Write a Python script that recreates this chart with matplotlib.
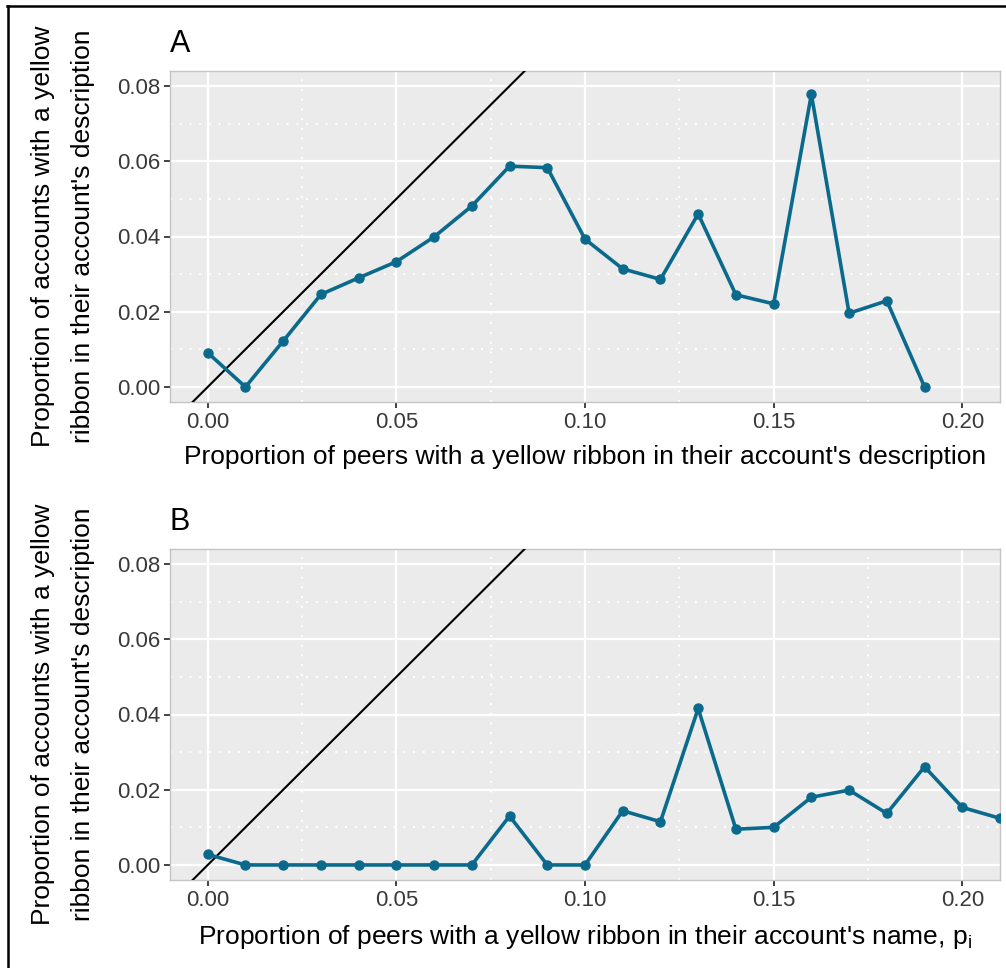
import matplotlib
matplotlib.use("Agg")
import matplotlib.pyplot as plt
from matplotlib.lines import Line2D
from matplotlib.ticker import MultipleLocator

# panel A: share of peers with ribbon in description
peer_desc = [0.00, 0.01, 0.02, 0.03, 0.04, 0.05, 0.06, 0.07, 0.08, 0.09,
             0.10, 0.11, 0.12, 0.13, 0.14, 0.15, 0.16, 0.17, 0.18, 0.19]
acc_desc = [0.0091, 0.0000, 0.0122, 0.0246, 0.0290, 0.0333, 0.0399, 0.0481, 0.0587, 0.0583,
            0.0393, 0.0314, 0.0286, 0.0460, 0.0245, 0.0221, 0.0778, 0.0196, 0.0229, 0.0000]

# panel B: share of peers with ribbon in name
peer_name = [0.00, 0.01, 0.02, 0.03, 0.04, 0.05, 0.06, 0.07, 0.08, 0.09, 0.10,
             0.11, 0.12, 0.13, 0.14, 0.15, 0.16, 0.17, 0.18, 0.19, 0.20, 0.21]
acc_name = [0.0028, 0.0000, 0.0000, 0.0000, 0.0000, 0.0000, 0.0000, 0.0000, 0.0130, 0.0000, 0.0000,
            0.0144, 0.0115, 0.0416, 0.0095, 0.0100, 0.0180, 0.0199, 0.0137, 0.0261, 0.0153, 0.0124]

x_ticks = [0.00, 0.05, 0.10, 0.15, 0.20]
y_ticks = [0.00, 0.02, 0.04, 0.06, 0.08]

ylab = "Proportion of accounts with a yellow\nribbon in their account's description"
xlab_a = "Proportion of peers with a yellow ribbon in their account's description"
xlab_b = "Proportion of peers with a yellow ribbon in their account's name, $\\mathregular{p_i}$"

plt.rcParams['font.family'] = ['Liberation Sans', 'DejaVu Sans']

W, H = 1006, 968
fig = plt.figure(figsize=(W / 100, H / 100), dpi=100)
fig.patch.set_facecolor('white')

line_col = '#0B6A8C'


def panel(rect, xs, ys, title, xlab):
    ax = fig.add_axes(rect)
    ax.set_facecolor('#EBEBEB')
    ax.set_xlim(-0.01, 0.21)
    ax.set_ylim(-0.004, 0.084)
    ax.set_xticks(x_ticks)
    ax.set_xticklabels(['%.2f' % v for v in x_ticks])
    ax.set_yticks(y_ticks)
    ax.set_yticklabels(['%.2f' % v for v in y_ticks])
    ax.xaxis.set_minor_locator(MultipleLocator(0.025))
    ax.yaxis.set_minor_locator(MultipleLocator(0.01))
    ax.tick_params(which='minor', length=0)
    ax.tick_params(which='major', length=4, width=1.3, color='#333333',
                   labelsize=16, labelcolor='#3A3A3A', pad=3)
    ax.grid(which='major', color='white', lw=1.6)
    ax.grid(which='minor', color='white', lw=1.4, ls=(0, (1, 4)))
    ax.set_axisbelow(True)
    for s in ax.spines.values():
        s.set_color('#C4C4C4')
        s.set_linewidth(1.0)

    ax.axline((0, 0), slope=1, color='black', lw=1.5, zorder=3)
    ax.plot(xs, ys, color=line_col, lw=2.6, marker='o', ms=6.5, zorder=4)

    ax.set_title(title, loc='left', fontsize=22, pad=14)
    ax.set_xlabel(xlab, fontsize=19)
    ax.xaxis.set_label_coords(0.5, -0.13)
    ax.set_ylabel(ylab, fontsize=19, linespacing=1.85)
    ax.yaxis.set_label_coords(-0.09, 0.5)
    return ax


left = 170 / W
width = 830 / W
hgt = 331 / H
panel([left, 1 - 402 / H, width, hgt], peer_desc, acc_desc, 'A', xlab_a)
panel([left, 1 - 880 / H, width, hgt], peer_name, acc_name, 'B', xlab_b)

# frame around the figure (cut off at right and bottom)
fig.add_artist(Line2D([7 / W, 1], [1 - 5.5 / H, 1 - 5.5 / H], color='black', lw=1.8))
fig.add_artist(Line2D([8 / W, 8 / W], [0, 1 - 5.5 / H], color='black', lw=1.8))

fig.savefig('out.png', dpi=100)
